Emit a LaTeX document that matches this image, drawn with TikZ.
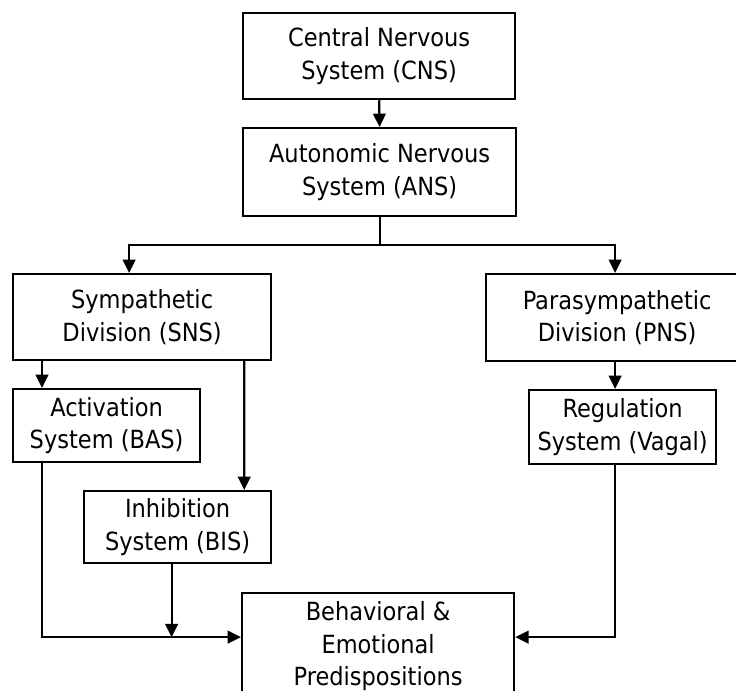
\documentclass[tikz,border=0pt]{standalone}
\usepackage{fontspec}
\setmainfont{DejaVu Sans Condensed}
\usepackage{tikz}
\usetikzlibrary{calc,arrows.meta}
\tikzstyle{rect} = [rectangle, draw=black, line width=1.6pt, inner sep=0pt, align=center, font=\fontsize{17.8}{23}\selectfont, anchor=north west]
\tikzstyle{arr} = [line width=1.6pt, -{Triangle[length=9.5pt,width=9pt]}]
\tikzstyle{link} = [line width=1.6pt]

\begin{document}
\begin{tikzpicture}
            \useasboundingbox (0,0) rectangle (18.4,-17.275);
            \clip (0,0) rectangle (18.4,-17.275);

            \node (CNS) [rect, minimum width=6.8cm, minimum height=2.15cm] at (6.05,-0.3) {Central Nervous\\System (CNS)};
            \node (ANS) [rect, minimum width=6.825cm, minimum height=2.2cm] at (6.05,-3.175) {Autonomic Nervous\\System (ANS)};
            \node (SNS) [rect, minimum width=6.45cm, minimum height=2.15cm] at (0.3,-6.825) {Sympathetic\\Division (SNS)};
            \node (PNS) [rect, minimum width=6.55cm, minimum height=2.175cm] at (12.125,-6.825) {Parasympathetic\\Division (PNS)};
            \node (BAS) [rect, minimum width=4.675cm, minimum height=1.825cm] at (0.3,-9.7) {Activation\\System (BAS)};
            \node (BIS) [rect, minimum width=4.675cm, minimum height=1.8cm] at (2.075,-12.25) {Inhibition\\System (BIS)};
            \node (Vagal) [rect, minimum width=4.675cm, minimum height=1.85cm] at (13.2,-9.725) {Regulation\\System (Vagal)};
            \node (Behav) [rect, minimum width=6.8cm, minimum height=2.65cm] at (6.025,-14.8) {Behavioral \&\\Emotional\\Predispositions};

            \coordinate (split) at ($(ANS.south)+(0,-0.7)$);
            \coordinate (join) at ($(Behav.west)+(0,0.225)$);

            \draw[arr] (CNS.south) -- (ANS.north);
            \draw[link] (ANS.south) -- (split);
            \draw[arr] (split) -| ([xshift=-0.325cm]SNS.north);
            \draw[arr] (split) -| ([xshift=-0.05cm]PNS.north);

            \draw[arr] ([xshift=0.75cm]SNS.south west) -- ([xshift=0.75cm]BAS.north west);
            \draw[arr] ([xshift=-0.7cm]SNS.south east) -- ([xshift=-0.7cm]BIS.north east);
            \draw[arr] ([xshift=-0.05cm]PNS.south) -- ([xshift=-0.05cm]PNS.south |- Vagal.north);

            \draw[arr] ([xshift=0.75cm]BAS.south west) |- (join);
            \draw[arr] ([xshift=-0.15cm]BIS.south) -- ([xshift=-0.15cm]BIS.south |- join);
            \draw[arr] ([xshift=-0.2cm]Vagal.south) |- ($(Behav.east)+(0,0.225)$);
        \end{tikzpicture}
\end{document}
